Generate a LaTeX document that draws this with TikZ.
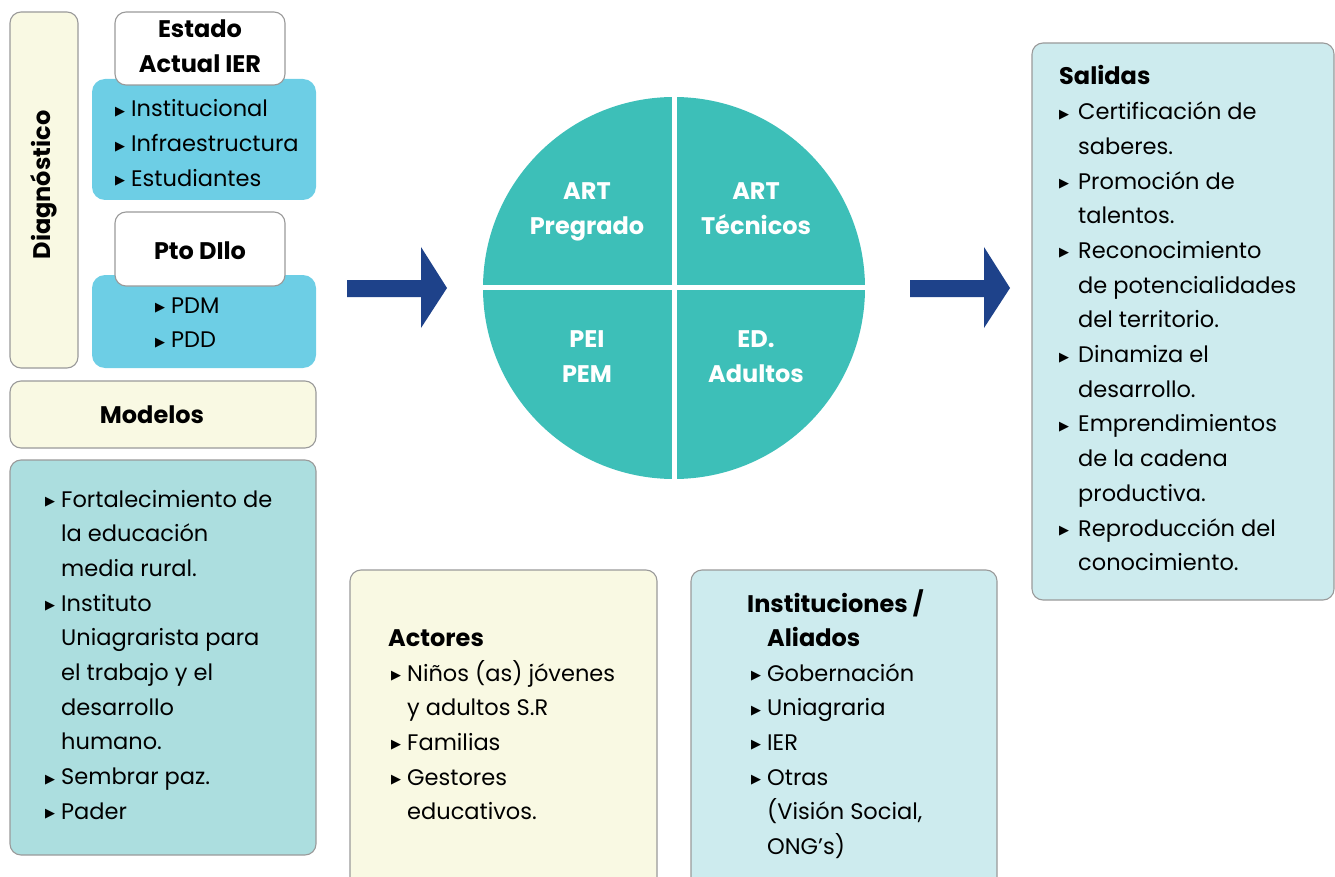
\documentclass[tikz,border=0pt]{standalone}
\usepackage{fontspec}
\setmainfont{Poppins}
\newfontfamily\symf{DejaVu Sans}
\definecolor{cream}{HTML}{F9F9E3}
\definecolor{sky}{HTML}{6DCEE5}
\definecolor{teal}{HTML}{3DBFB8}
\definecolor{aqua}{HTML}{ACDEDF}
\definecolor{pale}{HTML}{CDEBEE}
\definecolor{navy}{HTML}{1E428A}
\definecolor{edge}{HTML}{9A9A9A}
\newcommand{\bu}{\makebox[16pt][l]{\raisebox{1.5pt}{\symf\fontsize{13}{13}\selectfont ▶}}}
\newcommand{\bw}{\makebox[19pt][l]{\raisebox{1.5pt}{\symf\fontsize{13}{13}\selectfont ▶}}}
\newcommand{\ind}{\hspace*{16pt}}
\newcommand{\indw}{\hspace*{19pt}}
\tikzset{
  box/.style={draw=edge, line width=1.1pt, rounded corners=11pt},
  flat/.style={rounded corners=13pt},
  body/.style={inner sep=0pt, anchor=base west, font={\fontsize{22.5}{34.7}\selectfont}},
  title/.style={inner sep=0pt, anchor=base, font={\bfseries\fontsize{24}{35}\selectfont}},
  quad/.style={inner sep=0pt, anchor=base, text=white, font={\bfseries\fontsize{24}{35}\selectfont}},
}
\begin{document}
\begin{tikzpicture}[x=1pt,y=-1pt]
\useasboundingbox (0,0) rectangle (1335,877);
% Diagnostico column
\draw[box, fill=cream] (10,12) rectangle (78,368);
\node[title, anchor=center, rotate=90] (diag) at (44,185) {Diagnóstico};
% Estado Actual IER
\fill[sky, flat] (92,79) rectangle (316,200);
\draw[box, fill=white] (115,12) rectangle (285,85);
\node[title] (estado) at (200,38) {\begin{minipage}[t]{170pt}\centering Estado\\Actual IER\end{minipage}};
\node[body] (estlist) at (115,117) {\begin{minipage}[t]{200pt}\bu Institucional\\\bu Infraestructura\\\bu Estudiantes\end{minipage}};
% Pto DIlo
\fill[sky, flat] (92,275) rectangle (316,368);
\draw[box, fill=white] (115,212) rectangle (285,286);
\node[title] (pto) at (200,260) {Pto DIlo};
\node[body] (ptolist) at (155,313) {\begin{minipage}[t]{140pt}\bu PDM\\\bu PDD\end{minipage}};
% Modelos
\draw[box, fill=cream] (10,381) rectangle (316,448);
\node[title] (modelos) at (152,423) {Modelos};
\draw[box, fill=aqua] (10,460) rectangle (316,855);
\node[body] (modlist) at (45,507) {\begin{minipage}[t]{265pt}\bu Fortalecimiento de\\\ind la educación\\\ind media rural.\\\bu Instituto\\\ind Uniagrarista para\\\ind el trabajo y el\\\ind desarrollo\\\ind humano.\\\bu Sembrar paz.\\\bu Pader\end{minipage}};
% Arrows
\fill[navy] (347,280) -- (421,280) -- (421,247) -- (447,288) -- (421,328) -- (421,297) -- (347,297) -- cycle;
\fill[navy] (910,280) -- (984,280) -- (984,247) -- (1010,288) -- (984,328) -- (984,297) -- (910,297) -- cycle;
% Circle
\fill[teal] (674,288) circle (191);
\draw[white, line width=5pt] (674,90) -- (674,486);
\draw[white, line width=5pt] (476,287) -- (872,287);
\node[quad] (q1) at (587,200) {\begin{minipage}[t]{170pt}\centering ART\\Pregrado\end{minipage}};
\node[quad] (q2) at (756,200) {\begin{minipage}[t]{170pt}\centering ART\\Técnicos\end{minipage}};
\node[quad] (q3) at (587,347) {\begin{minipage}[t]{170pt}\centering PEI\\PEM\end{minipage}};
\node[quad] (q4) at (756,347) {\begin{minipage}[t]{170pt}\centering ED.\\Adultos\end{minipage}};
% Salidas
\draw[box, fill=pale] (1032,43) rectangle (1334,600);
\node[body] (salidas) at (1059,85) {\begin{minipage}[t]{270pt}{\bfseries\fontsize{24}{34.7}\selectfont Salidas}\\\bw Certificación de\\\indw saberes.\\\bw Promoción de\\\indw talentos.\\\bw Reconocimiento\\\indw de potencialidades\\\indw del territorio.\\\bw Dinamiza el\\\indw desarrollo.\\\bw Emprendimientos\\\indw de la cadena\\\indw productiva.\\\bw Reproducción del\\\indw conocimiento.\end{minipage}};
% Actores
\draw[box, fill=cream] (350,570) rectangle (657,895);
\node[body] (actores) at (388,646) {\bfseries\fontsize{24}{34.7}\selectfont Actores};
\node[body] (actlist) at (391,681) {\begin{minipage}[t]{265pt}\bu Niños (as) jóvenes\\\ind y adultos S.R\\\bu Familias\\\bu Gestores\\\ind educativos.\end{minipage}};
% Instituciones
\draw[box, fill=pale] (691,570) rectangle (997,895);
\node[body] (inst) at (747,612) {\begin{minipage}[t]{245pt}\bfseries\fontsize{24}{34.7}\selectfont Instituciones /\\\hspace*{20pt}Aliados\end{minipage}};
\node[body] (instlist) at (751,681) {\begin{minipage}[t]{245pt}\bu Gobernación\\\bu Uniagraria\\\bu IER\\\bu Otras\\\ind (Visión Social,\\\ind ONG’s)\end{minipage}};
\end{tikzpicture}
\end{document}
